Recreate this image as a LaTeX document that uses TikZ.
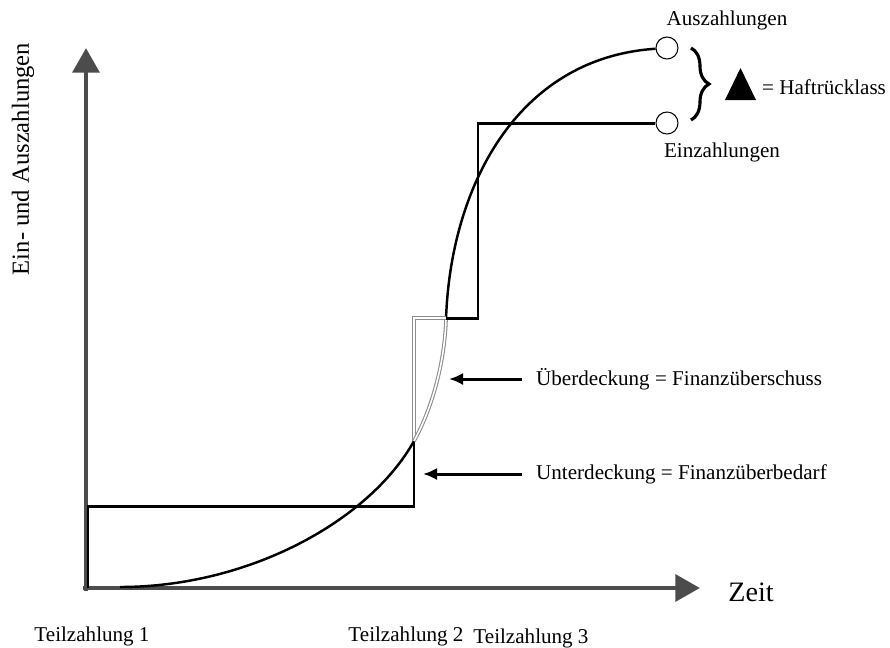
\documentclass[tikz,border=0pt]{standalone}
\usepackage{fontspec}
\setmainfont{Liberation Serif}
\usepackage{tikz}
\usetikzlibrary{positioning}
\usetikzlibrary{arrows.meta,shapes}
\usetikzlibrary{decorations.pathreplacing}
\usetikzlibrary{calc}

\begin{document}
\begin{tikzpicture}[x=0.02cm, y=-0.02cm, font=\fontsize{12}{14}\selectfont,
  achse/.style={draw=black!70, line width=2.8pt, -{Triangle[length=14pt,width=15pt]}},
  stufe/.style={line width=1.7pt, line join=miter},
  kurve/.style={line width=1.4pt},
  ueber/.style={draw=black!45, double=white, double distance=0.9pt, line width=0.6pt},
  pfeil/.style={line width=1.7pt, -{Latex[length=8pt,width=7pt]}, shorten <=0.16cm},
  punkt/.style={circle, draw, fill=white, line width=0.6pt, minimum size=0.44cm, inner sep=0pt}]

\useasboundingbox (0,0) rectangle (890,647);

% Achsen
\coordinate (Ox) at (83,588);
\coordinate (Oy) at (86,590.5);
\coordinate (ytop) at (86,48);
\coordinate (xend) at (700,588);
\draw[achse] (Oy) -- (ytop);
\draw[achse] (Ox) -- (xend);

\node[rotate=90, font=\fontsize{14}{16}\selectfont] (ylbl) at (23,159) {Ein- und Auszahlungen};
\node[font=\fontsize{16}{18}\selectfont] (zeit) at (751,592) {Zeit};

\node (tz1) at (92,636) {Teilzahlung 1};
\node (tz2) at (406,636) {Teilzahlung 2};
\node (tz3) at (531,638) {Teilzahlung 3};

% Einzahlungen (Stufen)
\node[punkt] (ein) at (667,123) {};
\node[punkt] (aus) at (667,48) {};
\coordinate (s0) at (88,588);
\coordinate (s1) at (88,506);
\coordinate (s2) at (414,506);
\coordinate (s3) at (414,441);
\coordinate (s4) at (414,318);
\coordinate (s5) at (446,318);
\coordinate (s6) at (478,318);
\coordinate (s7) at (478,123);
\draw[stufe] (s0) -- (s1) -- (s2) -- (s3);
\draw[stufe] (s5) -- (s6) -- (s7) -- (ein);

% Auszahlungen (Kurve)
\coordinate (k0) at (120,587);
\coordinate (k2) at (446,320);
\draw[kurve] (k0) .. controls (250,587) and (370,520) .. (s3);
\draw[kurve] (k2) .. controls (450,190) and (515,58) .. (aus);

\draw[ueber] (s3) -- (s4) -- (s5);
\draw[ueber] (s3) .. controls (428,416) and (444,372) .. (k2);

\node (auslbl) at (727,20) {Auszahlungen};
\node (einlbl) at (722,152) {Einzahlungen};

% Haftruecklass
\draw[decorate, decoration={brace, amplitude=0.36cm}, line width=1.8pt] (691,48) -- (691,120);
\fill (725,100) -- (756,100) -- (740.5,68) -- cycle;
\node[anchor=west] (haft) at (756,87) {= Haftrücklass};

% Deckung
\node[anchor=west] (ueberlbl) at (530,379) {Überdeckung = Finanzüberschuss};
\node[anchor=west] (unterlbl) at (530,474) {Unterdeckung = Finanzüberbedarf};
\coordinate (uebpt) at (449,379);
\coordinate (untpt) at (423,474);
\draw[pfeil] (ueberlbl.west) -- (uebpt);
\draw[pfeil] (unterlbl.west) -- (untpt);

\end{tikzpicture}
\end{document}
